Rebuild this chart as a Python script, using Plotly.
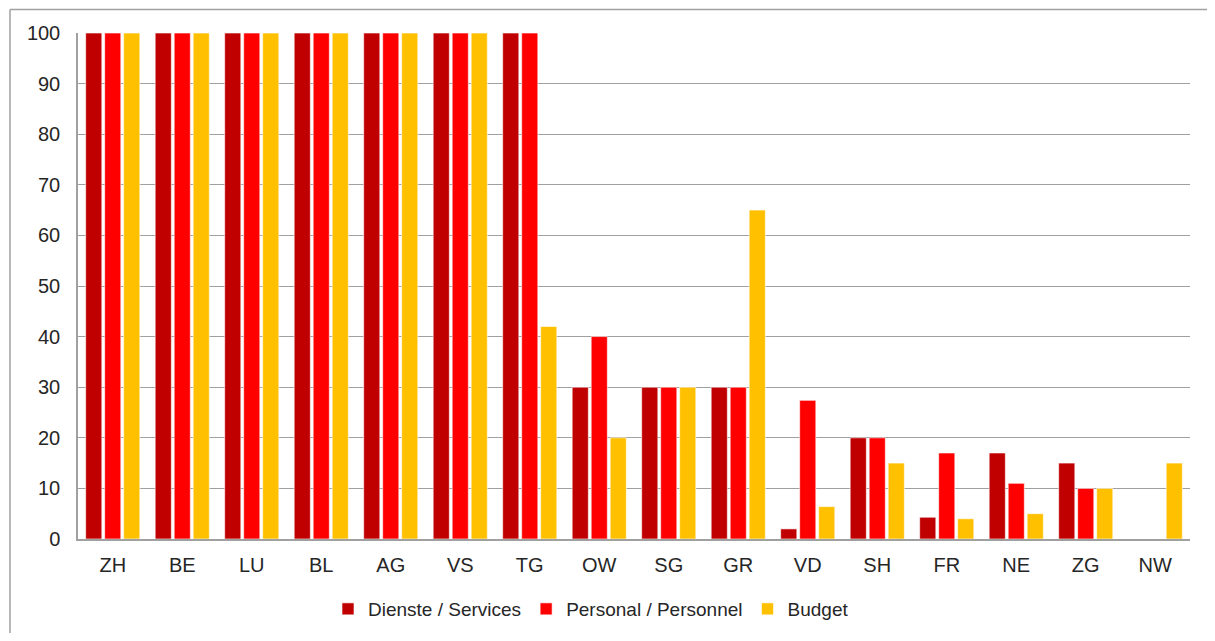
import plotly.graph_objects as go

# Kantone
cantons = ['ZH', 'BE', 'LU', 'BL', 'AG', 'VS', 'TG', 'OW', 'SG', 'GR',
           'VD', 'SH', 'FR', 'NE', 'ZG', 'NW']

# Werte pro Serie (%)
dienste = [100, 100, 100, 100, 100, 100, 100, 30, 30, 30, 2, 20, 4.3, 17, 15, 0]
personal = [100, 100, 100, 100, 100, 100, 100, 40, 30, 30, 27.4, 20, 17, 11, 10, 0]
budget = [100, 100, 100, 100, 100, 100, 42, 20, 30, 65, 6.4, 15, 4, 5, 10, 15]

COLORS = {'dienste': '#C00000', 'personal': '#FF0000', 'budget': '#FFC000'}
FONT = 'Liberation Sans, Arial, sans-serif'

fig = go.Figure()

for name, vals, col in [('Dienste / Services', dienste, COLORS['dienste']),
                        ('Personal / Personnel', personal, COLORS['personal']),
                        ('Budget', budget, COLORS['budget'])]:
    fig.add_trace(go.Bar(
        x=cantons,
        y=vals,
        name=name,
        marker=dict(color=col, line=dict(color='rgba(255,255,255,0.6)', width=1)),
    ))

# Rahmen um das Diagramm: nur obere und linke Kante sind sichtbar
frame_x = (10 - 78) / 1112
frame_y = (539 - 9.5) / 506
fig.add_shape(type='line', xref='paper', yref='paper',
              x0=frame_x, x1=1.1, y0=frame_y, y1=frame_y,
              line=dict(color='#A0A0A0', width=1.5), layer='below')
fig.add_shape(type='line', xref='paper', yref='paper',
              x0=frame_x, x1=frame_x, y0=-0.3, y1=frame_y,
              line=dict(color='#A0A0A0', width=1.5), layer='below')

# Seite hat 8px Rand (body margin): Figur kleiner, damit kein Scrollbalken entsteht
fig.update_layout(
    width=1199,
    height=625,
    margin=dict(l=70, r=17, t=25, b=94),
    paper_bgcolor='white',
    plot_bgcolor='white',
    barmode='group',
    bargap=0.18,
    bargroupgap=0.15,
    font=dict(family=FONT, size=20, color='#262626'),
    xaxis=dict(
        showgrid=False,
        showline=True,
        linecolor='#A0A0A0',
        linewidth=1.5,
        ticks='',
        ticklabelstandoff=7,
        tickfont=dict(size=20),
    ),
    yaxis=dict(
        range=[0, 100],
        dtick=10,
        showgrid=True,
        gridcolor='#A0A0A0',
        gridwidth=1,
        showline=True,
        linecolor='#A0A0A0',
        linewidth=1.5,
        zeroline=False,
        ticks='',
        ticklabelstandoff=12,
        tickfont=dict(size=20),
    ),
    legend=dict(
        orientation='h',
        x=(591 - 78) / 1112,
        xanchor='center',
        yref='container',
        y=(625 - 601) / 625,
        yanchor='middle',
        font=dict(size=19),
        itemwidth=30,
        traceorder='normal',
    ),
    showlegend=True,
)

fig.write_html('out.html')
